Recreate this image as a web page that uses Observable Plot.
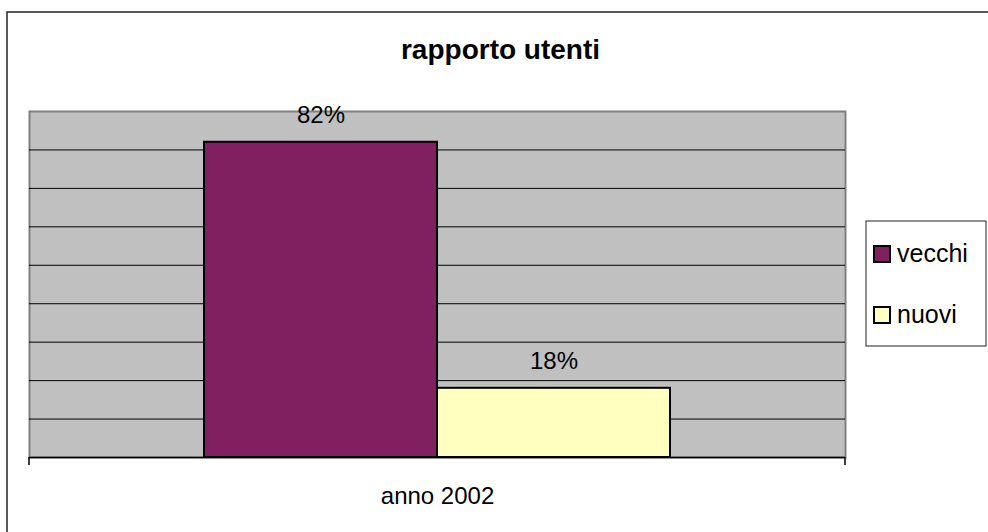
<!DOCTYPE html>
<html>
<head>
<meta charset="utf-8">
<script src="https://cdn.jsdelivr.net/npm/d3@7"></script>
<script src="https://cdn.jsdelivr.net/npm/@observablehq/plot@0.6"></script>
<style>
  html, body { margin: 0; padding: 0; background: #fff; }
  #chart { width: 988px; height: 532px; overflow: hidden; }
</style>
</head>
<body>
<div id="chart"></div>
<script>
const title = "rapporto utenti";
const category = "anno 2002";
const series = ["vecchi", "nuovi"];
const values = [0.82, 0.18];
const colors = ["#802060", "#FFFFC0"];
const gridTicks = [0.1, 0.2, 0.3, 0.4, 0.5, 0.6, 0.7, 0.8];
const yMax = 0.9;

const data = series.map((s, i) => ({series: s, value: values[i], category}));
const font = "'Liberation Sans', Arial, Helvetica, sans-serif";

function decorations(index, scales, vals, dims, context) {
  const g = d3.create("svg:g");
  const left = dims.marginLeft;
  const right = dims.width - dims.marginRight;
  const bottom = dims.height - dims.marginBottom;
  // category boundary ticks
  for (const x of [left, right]) {
    g.append("line").attr("x1", x).attr("x2", x).attr("y1", bottom).attr("y2", bottom + 8)
      .attr("stroke", "#000").attr("stroke-width", 1.5);
  }
  // outer chart border
  g.append("rect").attr("x", 7).attr("y", 12).attr("width", dims.width + 20).attr("height", dims.height + 20)
    .attr("fill", "none").attr("stroke", "#222").attr("stroke-width", 1.5);
  // legend
  const lx = right + 21, ly = 221;
  g.append("rect").attr("x", lx).attr("y", ly).attr("width", 120).attr("height", 125)
    .attr("fill", "#fff").attr("stroke", "#222").attr("stroke-width", 1);
  series.forEach((s, i) => {
    const base = ly + 41 + i * 61;
    g.append("rect").attr("x", lx + 8).attr("y", base - 16).attr("width", 16).attr("height", 16)
      .attr("fill", scales.color(s)).attr("stroke", "#000").attr("stroke-width", 2);
    g.append("text").attr("x", lx + 31).attr("y", base).text(s)
      .attr("text-anchor", "start")
      .attr("font-size", 25).attr("font-family", font).attr("fill", "#000");
  });
  return g.node();
}

const plot = Plot.plot({
  width: 988,
  height: 532,
  marginLeft: 29,
  marginRight: 143,
  marginTop: 111,
  marginBottom: 75,
  style: {fontFamily: font, fontSize: "24px", background: "#fff", color: "#000"},
  x: {type: "band", domain: series, paddingInner: 0, paddingOuter: 0.745, axis: null},
  y: {domain: [0, yMax], axis: null},
  color: {domain: series, range: colors},
  marks: [
    Plot.frame({fill: "#C0C0C0", stroke: "#808080", strokeWidth: 2}),
    Plot.ruleY(gridTicks, {stroke: "#000", strokeWidth: 1}),
    Plot.ruleY([0], {stroke: "#000", strokeWidth: 1.5}),
    Plot.barY(data, {x: "series", y: "value", fill: "series", stroke: "#000", strokeWidth: 2}),
    Plot.text(data, {x: "series", y: "value", text: d => Math.round(d.value * 100) + "%", lineAnchor: "bottom", dy: -19, fontSize: 24, fill: "#000"}),
    Plot.text([category], {frameAnchor: "bottom", lineAnchor: "bottom", dy: 46, fontSize: 24, fill: "#000"}),
    Plot.text([title], {frameAnchor: "top", lineAnchor: "bottom", dx: 63, dy: -53, fontSize: 28, fontWeight: "bold", fill: "#000"}),
    decorations
  ]
});
document.getElementById("chart").appendChild(plot);
</script>
</body>
</html>
